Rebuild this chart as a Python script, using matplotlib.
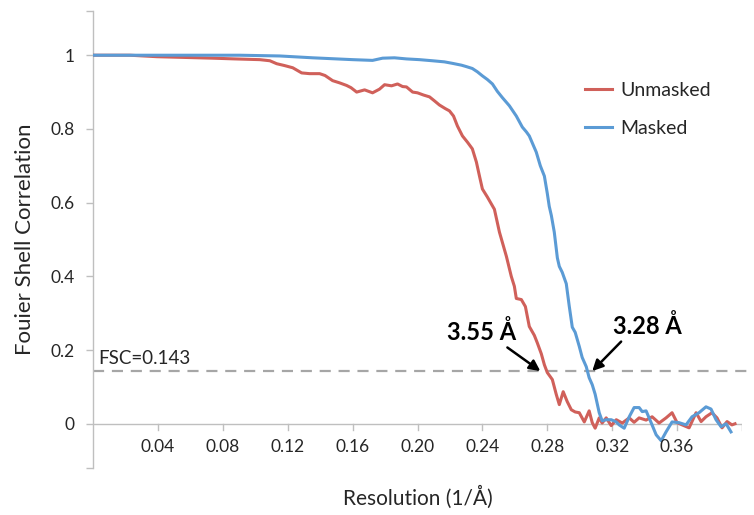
import matplotlib
matplotlib.use("Agg")
import matplotlib.pyplot as plt

plt.rcParams['font.family'] = ['Lato', 'DejaVu Sans']

# Resolution (1/Å) and FSC values
res_unmasked = [0.000, 0.0228, 0.0394, 0.0566, 0.0738, 0.0874, 0.1028, 0.109, 0.1132, 0.118,
                0.1231, 0.1286, 0.1335, 0.1397, 0.143, 0.1477, 0.152, 0.1563, 0.159, 0.1625,
                0.1674, 0.1723, 0.1766, 0.1797, 0.184, 0.1877, 0.1908, 0.1932, 0.197, 0.200,
                0.2037, 0.2074, 0.2105, 0.2135, 0.2172, 0.2197, 0.2222, 0.2246, 0.2277, 0.2308,
                0.2338, 0.2363, 0.2382, 0.2400, 0.2431, 0.2474, 0.2505, 0.2548, 0.2578, 0.2597,
                0.2609, 0.2640, 0.2665, 0.2689, 0.2720, 0.2738, 0.2763, 0.2782, 0.2800, 0.2831,
                0.2855, 0.2874, 0.2898, 0.2923, 0.2948, 0.2972, 0.2997, 0.3028, 0.3058, 0.3077,
                0.3095, 0.3120, 0.3138, 0.3163, 0.3194, 0.3225, 0.3262, 0.3305, 0.3335, 0.3366,
                0.3409, 0.3446, 0.3489, 0.3532, 0.3569, 0.3600, 0.3631, 0.3674, 0.3717, 0.3748,
                0.3778, 0.3815, 0.3846, 0.3877, 0.3908, 0.3938, 0.3957]
fsc_unmasked = [1.000, 1.000, 0.996, 0.994, 0.992, 0.990, 0.988, 0.985, 0.977, 0.972,
                0.966, 0.952, 0.950, 0.950, 0.945, 0.931, 0.925, 0.918, 0.912, 0.900,
                0.906, 0.898, 0.908, 0.920, 0.917, 0.922, 0.915, 0.914, 0.900, 0.898,
                0.892, 0.887, 0.876, 0.865, 0.855, 0.849, 0.835, 0.808, 0.781, 0.764,
                0.746, 0.710, 0.672, 0.637, 0.615, 0.582, 0.520, 0.454, 0.400, 0.373,
                0.340, 0.337, 0.318, 0.264, 0.240, 0.220, 0.190, 0.160, 0.139, 0.120,
                0.080, 0.052, 0.087, 0.060, 0.038, 0.032, 0.030, 0.005, 0.035, 0.003,
                -0.012, 0.016, 0.002, 0.016, -0.005, 0.011, 0.002, 0.016, 0.004, 0.016,
                0.010, 0.019, 0.002, 0.016, 0.030, 0.003, -0.003, -0.011, 0.030, 0.006,
                0.019, 0.030, 0.016, -0.011, 0.006, -0.003, 0.000]

res_masked = [0.000, 0.0905, 0.1151, 0.1354, 0.1600, 0.1723, 0.1785, 0.1858, 0.1932, 0.2012,
              0.2092, 0.2166, 0.2215, 0.2271, 0.2302, 0.2338, 0.2369, 0.2400, 0.2431, 0.2462,
              0.2492, 0.2523, 0.2566, 0.2609, 0.2646, 0.2671, 0.2689, 0.2732, 0.2757, 0.2782,
              0.2800, 0.2812, 0.2825, 0.2843, 0.2862, 0.2874, 0.2892, 0.2917, 0.2935, 0.2954,
              0.2972, 0.2997, 0.3015, 0.3040, 0.3058, 0.3077, 0.3095, 0.3120, 0.3138, 0.3163,
              0.3194, 0.3225, 0.3243, 0.3274, 0.3305, 0.3335, 0.3366, 0.3385, 0.3409, 0.3440,
              0.3471, 0.3502, 0.3532, 0.3569, 0.3612, 0.3655, 0.3692, 0.3735, 0.3778, 0.3809,
              0.3840, 0.3871, 0.3902, 0.3932]
fsc_masked = [1.000, 1.000, 0.998, 0.993, 0.988, 0.986, 0.992, 0.993, 0.990, 0.988,
              0.985, 0.982, 0.978, 0.973, 0.969, 0.964, 0.955, 0.944, 0.934, 0.922,
              0.902, 0.885, 0.863, 0.835, 0.805, 0.792, 0.781, 0.737, 0.700, 0.672,
              0.625, 0.590, 0.565, 0.520, 0.450, 0.427, 0.411, 0.380, 0.320, 0.262,
              0.248, 0.210, 0.180, 0.155, 0.125, 0.106, 0.080, 0.030, 0.008, 0.011,
              0.011, 0.005, -0.003, -0.012, 0.019, 0.044, 0.044, 0.033, 0.035, 0.003,
              -0.030, -0.046, -0.022, 0.005, 0.003, -0.003, 0.019, 0.030, 0.046, 0.040,
              0.011, -0.008, 0.000, -0.022]

x_ticks = [0.04, 0.08, 0.12, 0.16, 0.20, 0.24, 0.28, 0.32, 0.36, 0.40]
x_tick_labels = ['0.04', '0.08', '0.12', '0.16', '0.20', '0.24', '0.28', '0.32', '0.36', '']
y_ticks = [-0.12, 0, 0.2, 0.4, 0.6, 0.8, 1.0, 1.12]
y_tick_labels = ['', '0', '0.2', '0.4', '0.6', '0.8', '1', '']
fsc_threshold = 0.143

# annotation labels: text, text position, arrow tail, arrow tip (resolution, FSC)
ann_labels = ['3.55 Å', '3.28 Å']
ann_text_pos = [(0.2394, 0.250), (0.3415, 0.264)]
ann_tail = [(0.2554, 0.207), (0.3255, 0.223)]
ann_tip = [(0.2757, 0.143), (0.3077, 0.143)]

RED = '#D0605A'
BLUE = '#5B9BD5'
AXIS = '#BFBFBF'
TEXT = '#262626'

fig = plt.figure(figsize=(7.54, 5.15), dpi=100)
ax = fig.add_axes([93/754, 1 - 468/515, (742 - 93)/754, (468 - 11)/515])

ax.plot(res_unmasked, fsc_unmasked, color=RED, lw=2.2, label='Unmasked', zorder=3)
ax.plot(res_masked, fsc_masked, color=BLUE, lw=2.2, label='Masked', zorder=3)

ax.set_xlim(0, 0.40)
ax.set_ylim(-0.12, 1.12)

# zero line as x axis
ax.axhline(0, color=AXIS, lw=1.0, zorder=1)
# threshold
ax.axhline(fsc_threshold, xmin=0, xmax=(752 - 93)/(742 - 93), color='#A6A6A6', lw=1.6,
           ls=(0, (5, 3.5)), clip_on=False, zorder=2)
ax.text(0.003, fsc_threshold + 0.012, 'FSC=0.143', fontsize=13.5, color=TEXT, ha='left', va='bottom')

for s in ['top', 'right', 'bottom']:
    ax.spines[s].set_visible(False)
ax.spines['left'].set_color(AXIS)
ax.spines['left'].set_linewidth(1.0)

ax.set_yticks(y_ticks)
ax.set_yticklabels(y_tick_labels)
ax.tick_params(axis='y', length=5, width=1, color=AXIS, labelsize=12.5, labelcolor=TEXT, pad=8)

# x ticks hang from the zero line
for xt in x_ticks:
    ax.plot([xt, xt], [0, -0.017], color=AXIS, lw=1.0, zorder=1)
ax.set_xticks([])
for xt, lab in zip(x_ticks, x_tick_labels):
    ax.text(xt, -0.042, lab, ha='center', va='top', fontsize=12.5, color=TEXT)

fig.text(25 / 754, 1 - 239 / 515, 'Fouier Shell Correlation', rotation=90, ha='center', va='center',
         fontsize=16, color=TEXT)
fig.text((93 + 742) / 2 / 754, 1 - 497 / 515, 'Resolution (1/Å)', ha='center', va='center',
         fontsize=15, color=TEXT)

for lab, tp, tail, tip in zip(ann_labels, ann_text_pos, ann_tail, ann_tip):
    ax.text(tp[0], tp[1], lab, ha='center', va='center', fontsize=17, fontweight='bold',
            color='black', zorder=5)
    ax.annotate('', xy=tip, xytext=tail,
                arrowprops=dict(arrowstyle='-|>', color='black', lw=1.8, mutation_scale=16,
                                shrinkA=0, shrinkB=0), zorder=5)

leg = ax.legend(loc='upper left', bbox_to_anchor=((585 - 93)/649, 1 - (82 - 11)/457),
                frameon=False, fontsize=14, handlelength=1.4, handletextpad=0.4,
                labelspacing=1.07, borderpad=0, borderaxespad=0)
for t in leg.get_texts():
    t.set_color(TEXT)

fig.savefig('out.png', dpi=100)
